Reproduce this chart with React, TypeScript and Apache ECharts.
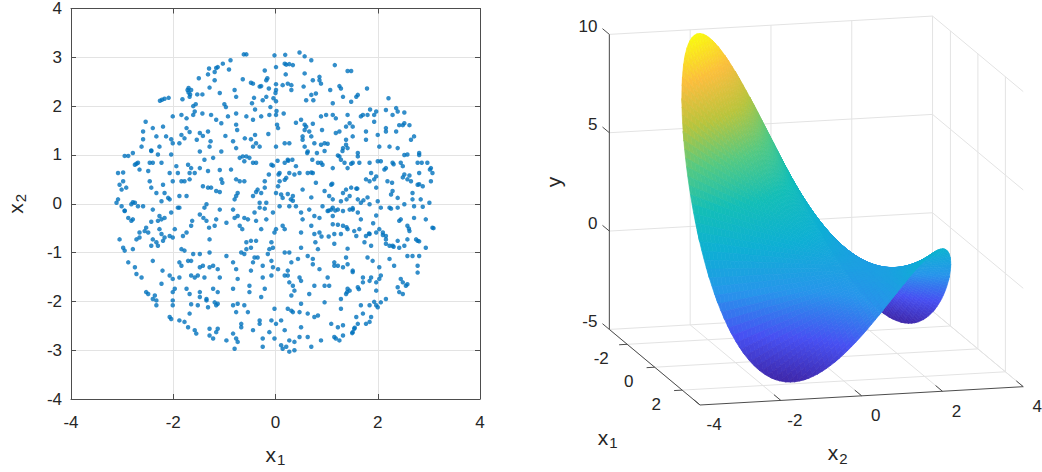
import * as echarts from "echarts";
import { useEffect, useRef } from "react";

const samplePoints: [number, number][] = [
  // x2 above 2
  [-0.62, 3.06], [-0.57, 3.06], [-0.02, 3.04], [0.19, 3.05], [0.47, 3.1], [0.57, 3.02], [0.7, 2.94], [1.16, 2.84],
  [-0.88, 2.94], [-1.03, 2.87], [-0.91, 2.75], [-1.13, 2.8], [-1.3, 2.77], [-1.16, 2.78], [-1.19, 2.7], [-1.32, 2.65],
  [-1.19, 2.53], [-1.29, 2.38], [-1.5, 2.57], [-1.7, 2.37], [-1.65, 2.33], [-1.72, 2.33], [-1.7, 2.28], [-1.67, 2.24],
  [-1.68, 2.19], [-1.53, 2.24], [-1.43, 2.24], [-1.82, 2.14], [-2.26, 2.11], [-2.22, 2.13], [-2.17, 2.15], [-2.09, 2.17],
  [-1.56, 2.04], [-1.09, 2.27], [-0.8, 2.33], [-0.77, 2.19], [-0.64, 2.55], [-0.48, 2.48], [-0.21, 2.73], [-0.16, 2.57],
  [-0.28, 2.41], [0.01, 2.45], [-0.44, 2.46], [-0.31, 2.4], [-0.18, 2.53], [0.01, 2.8], [0.18, 2.87], [0.21, 2.85],
  [0.27, 2.86], [0.34, 2.84], [0.2, 2.65], [0.14, 2.43], [0.24, 2.46], [0.31, 2.43], [0.31, 2.33], [0.01, 2.33],
  [-0.04, 2.16], [-0.18, 2.19], [-0.25, 2.12], [-0.42, 2.17], [-0.13, 2.36], [0.0, 2.27], [0.01, 2.1], [-0.46, 2.06],
  [-1.0, 2.04], [0.57, 2.67], [0.73, 2.53], [0.86, 2.6], [0.86, 2.53], [0.89, 2.46], [0.55, 2.4], [0.6, 2.12],
  [0.74, 2.12], [0.79, 2.26], [0.7, 2.23], [1.07, 2.33], [1.25, 2.41], [1.28, 2.36], [1.41, 2.72], [1.48, 2.72],
  [1.79, 2.36], [1.58, 2.19], [1.61, 2.23], [1.32, 2.19], [1.48, 2.09], [1.12, 2.06], [2.21, 2.16], [2.36, 1.96],
  [2.16, 1.92], [1.85, 1.93], [1.97, 1.89], [2.39, 1.89], [2.52, 1.87],
  // x2 between 1 and 2
  [-2.54, 1.68], [-2.59, 1.48], [-2.4, 1.55], [-2.2, 1.58], [-2.33, 1.38], [-2.14, 1.38], [-2.04, 1.32], [-2.01, 1.24],
  [-2.27, 1.17], [-2.43, 1.09], [-2.62, 1.17], [-2.59, 1.32], [-2.79, 1.04], [-2.95, 0.98], [-2.88, 0.98], [-1.84, 1.41],
  [-1.88, 1.24], [-1.78, 1.34], [-1.74, 1.55], [-1.84, 1.82], [-2.01, 1.79], [-1.61, 1.82], [-1.61, 2.0], [-1.43, 1.85],
  [-1.74, 1.75], [-1.48, 1.45], [-1.42, 1.39], [-1.32, 1.48], [-1.54, 1.31], [-1.48, 1.07], [-1.29, 1.17], [-1.26, 1.82],
  [-1.16, 1.72], [-1.06, 1.65], [-0.93, 1.79], [-0.77, 1.85], [-0.77, 1.62], [-0.75, 1.51], [-0.98, 1.39], [-0.83, 1.28],
  [-0.77, 1.14], [-1.06, 1.07], [-0.57, 1.79], [-0.44, 1.72], [-0.28, 1.79], [-0.12, 1.82], [0.01, 1.82], [0.16, 1.85],
  [0.03, 1.62], [0.05, 1.55], [-0.48, 1.32], [-0.38, 1.24], [-0.44, 1.17], [-0.31, 1.17], [0.01, 1.17], [0.18, 1.24],
  [0.27, 1.24], [0.4, 1.66], [0.5, 1.72], [0.57, 1.62], [0.57, 1.51], [0.6, 1.58], [0.73, 1.64], [0.89, 1.79],
  [0.99, 1.82], [1.12, 1.82], [0.91, 1.51], [1.18, 1.75], [0.53, 1.38], [0.66, 1.48], [0.7, 1.38], [0.53, 1.31],
  [0.57, 1.17], [0.76, 1.24], [0.63, 1.07], [0.89, 1.21], [0.96, 1.24], [1.02, 1.23], [1.18, 1.45], [1.25, 1.48],
  [1.41, 1.82], [1.45, 1.65], [1.38, 1.58], [1.51, 1.58], [1.67, 1.79], [1.71, 1.82], [1.8, 1.82], [1.93, 1.82],
  [1.51, 1.38], [1.38, 1.31], [1.38, 1.21], [1.32, 1.14], [1.41, 1.14], [1.25, 0.97], [1.61, 1.04], [1.77, 1.31],
  [1.77, 1.48], [1.93, 1.68], [2.0, 1.41], [2.03, 1.17], [2.16, 1.55], [2.16, 1.48], [2.29, 1.82], [2.23, 1.17],
  [2.36, 1.48], [2.42, 1.61], [2.49, 1.61], [2.52, 1.65], [2.62, 1.61], [2.65, 1.31], [2.71, 1.38], [2.39, 1.14],
  [2.52, 1.0], [2.81, 1.0], [-0.4, 1.93], [-0.1, 1.98], [0.02, 1.9], [-0.97, 1.98], [-1.58, 1.89], [-1.68, 1.47],
  [-1.27, 1.28], [-0.6, 1.34], [-0.14, 1.43], [-0.4, 1.41], [0.62, 1.04], [0.81, 1.04], [0.96, 1.08], [1.22, 0.99],
  [1.31, 1.08], [2.58, 1.01], [2.81, 1.04], [-2.43, 1.08], [-2.3, 1.01], [-2.04, 1.01],
  // x2 between 0 and 1
  [-3.08, 0.63], [-3.05, 0.39], [-3.01, 0.29], [-2.98, 0.46], [-2.92, 0.33], [-2.75, 0.8], [-2.69, 0.84], [-2.66, 0.7],
  [-2.46, 0.84], [-2.4, 0.84], [-2.23, 0.84], [-2.49, 0.67], [-2.46, 0.46], [-2.43, 0.33], [-2.33, 0.22], [-2.2, 0.39],
  [-2.17, 0.22], [-2.1, 0.12], [-2.07, 0.09], [-2.23, 0.05], [-2.07, 0.63], [-1.94, 0.77], [-1.91, 0.63], [-2.01, 0.46],
  [-1.84, 0.46], [-1.78, 0.46], [-1.71, 0.8], [-1.65, 0.73], [-1.68, 0.63], [-1.68, 0.5], [-1.58, 0.63], [-1.48, 0.73],
  [-1.39, 0.9], [-1.32, 0.67], [-1.22, 0.94], [-1.09, 0.69], [-1.06, 0.5], [-1.04, 0.43], [-1.42, 0.36], [-1.32, 0.33],
  [-1.26, 0.33], [-1.16, 0.26], [-1.09, 0.24], [-1.74, 0.16], [-1.88, 0.16], [-0.87, 0.7], [-0.77, 0.5], [-0.7, 0.46],
  [-0.61, 0.46], [-0.74, 0.22], [-0.77, 0.16], [-0.8, 0.09], [-0.44, 0.16], [-0.38, 0.24], [-0.35, 0.29], [-0.28, 0.22],
  [-0.21, 0.46], [-0.21, 0.33], [-0.18, 0.02], [-0.31, 0.02], [-0.7, 0.94], [-0.64, 0.97], [-0.57, 0.97], [-0.61, 0.87],
  [-0.51, 0.94], [-0.44, 0.84], [-0.38, 0.84], [-0.08, 0.8], [-0.05, 0.78], [-0.13, 0.6], [0.08, 0.63], [0.08, 0.46],
  [0.05, 0.36], [0.18, 0.84], [0.24, 0.9], [0.33, 0.9], [0.4, 0.77], [0.21, 0.53], [0.27, 0.63], [0.37, 0.6],
  [0.47, 0.63], [0.63, 0.63], [0.73, 0.63], [0.53, 0.29], [0.01, 0.22], [0.11, 0.19], [0.24, 0.2], [0.14, 0.12],
  [0.34, 0.16], [0.3, 0.09], [0.79, 0.43], [0.72, 0.9], [0.83, 0.84], [0.89, 0.84], [0.92, 0.8], [1.12, 0.73],
  [1.09, 0.39], [1.05, 0.16], [1.12, 0.09], [1.28, 0.9], [1.35, 0.84], [1.41, 0.73], [1.51, 0.84], [1.61, 0.97],
  [1.64, 0.84], [1.32, 0.22], [1.38, 0.29], [1.48, 0.33], [1.58, 0.31], [1.45, 0.16], [1.84, 0.84], [1.87, 0.63],
  [1.77, 0.5], [1.84, 0.46], [1.93, 0.5], [1.97, 0.56], [1.97, 0.33], [2.0, 0.87], [2.06, 0.87], [2.13, 0.7],
  [2.16, 0.73], [2.19, 0.46], [2.29, 0.84], [2.29, 0.26], [2.26, 0.19], [2.39, 0.12], [2.49, 0.77], [2.52, 0.6],
  [2.58, 0.5], [2.65, 0.46], [2.68, 0.22], [2.78, 0.84], [2.81, 0.63], [2.78, 0.39], [2.88, 0.36], [2.97, 0.84],
  [3.04, 0.73], [3.07, 0.63], [3.04, 0.46], [2.68, 0.09], [2.84, 0.09], [0.04, 0.88], [0.25, 0.88], [0.06, 0.6],
  [0.18, 0.49], [0.7, 0.64], [1.48, 0.82], [2.31, 0.81], [2.45, 0.84], [2.86, 0.84], [3.02, 0.7], [2.81, 0.4],
  [2.62, 0.58], [2.49, 0.54], [2.28, 0.43], [1.6, 0.31], [1.39, 0.09], [1.72, 0.07], [1.8, 0.13], [1.11, 0.41],
  [0.96, 0.26], [0.7, 0.13], [-2.72, 0.82], [-2.98, 0.64], [-2.79, 0.03],
  // x2 between -1 and 0
  [-3.11, 0.02], [-3.08, 0.09], [-3.01, -0.05], [-2.95, -0.15], [-2.88, -0.29], [-2.82, -0.01], [-2.75, 0.02], [-2.69, -0.05],
  [-2.59, -0.05], [-2.82, -0.35], [-2.79, -0.32], [-2.53, -0.49], [-2.56, -0.56], [-2.66, -0.59], [-2.72, -0.73], [-2.66, -0.69],
  [-2.49, -0.59], [-2.4, -0.12], [-2.27, -0.25], [-2.43, -0.37], [-2.3, -0.35], [-2.23, -0.32], [-2.17, -0.29], [-2.04, -0.18],
  [-2.27, -0.52], [-2.23, -0.62], [-2.4, -0.73], [-2.43, -0.86], [-2.33, -0.79], [-2.3, -0.86], [-2.2, -0.76], [-2.17, -0.69],
  [-2.07, -0.66], [-2.01, -0.69], [-1.91, -0.08], [-1.88, -0.08], [-1.97, -0.52], [-1.81, -0.66], [-1.74, -0.59], [-1.63, -0.35],
  [-1.65, -0.45], [-1.48, -0.22], [-1.39, -0.08], [-1.35, -0.01], [-1.41, -0.29], [-1.35, -0.35], [-1.3, -0.49], [-1.19, -0.45],
  [-1.29, -0.73], [-1.09, -0.12], [-1.16, -0.32], [-0.96, -0.39], [-0.83, -0.12], [-0.8, -0.29], [-0.74, -0.25], [-0.7, -0.45],
  [-0.61, -0.29], [-0.54, -0.32], [-0.65, -0.52], [-0.57, -0.79], [-0.48, -0.76], [-0.38, -0.76], [-0.61, -1.03], [-0.41, -0.18],
  [-0.31, -0.08], [-0.21, -0.1], [-0.18, -0.32], [-0.38, -0.35], [-0.28, -0.52], [-0.05, -0.18], [0.08, -0.05], [0.01, -0.52],
  [-0.02, -0.59], [-0.08, -0.79], [0.14, -0.45], [0.18, -0.52], [0.27, -0.05], [0.34, 0.06], [0.4, -0.05], [0.5, -0.18],
  [0.66, -0.12], [0.76, -0.25], [0.86, -0.29], [0.92, -0.05], [1.02, -0.15], [1.09, -0.12], [1.12, -0.08], [1.22, -0.12],
  [1.28, 0.05], [1.32, -0.15], [1.45, -0.12], [1.51, -0.12], [1.61, 0.09], [1.67, 0.02], [1.84, -0.01], [2.0, 0.05],
  [2.06, -0.08], [2.23, -0.08], [2.39, -0.08], [2.52, -0.01], [2.71, -0.05], [2.88, -0.06], [3.01, 0.02], [1.12, -0.25],
  [0.53, -0.32], [0.7, -0.45], [0.5, -0.59], [0.76, -0.62], [0.86, -0.59], [1.12, -0.42], [1.15, -0.62], [1.28, -0.62],
  [1.32, -0.45], [1.41, -0.52], [1.54, -0.56], [1.64, -0.52], [1.67, -0.32], [1.61, -0.18], [1.77, -0.66], [1.84, -0.62],
  [1.74, -0.79], [1.87, -0.86], [1.97, -0.59], [2.03, -0.52], [2.1, -0.59], [2.16, -0.66], [2.16, -0.73], [2.23, -0.86],
  [2.29, -0.86], [2.39, -0.76], [2.42, -0.9], [2.45, -0.32], [2.58, -0.45], [2.62, -0.56], [2.75, -0.73], [2.78, -0.76],
  [2.94, -0.32], [3.07, -0.49], [2.94, -0.9], [2.58, -0.73], [2.52, -0.86], [1.04, -0.14], [1.17, -0.14], [1.51, -0.09],
  [1.97, -0.24], [2.26, -0.1], [2.71, -0.29], [2.42, -0.35], [2.61, -0.51], [3.09, -0.5], [1.91, -0.4], [1.39, -0.48],
  [1.22, -0.43], [1.04, -0.67], [0.9, -0.67], [0.78, -0.79], [1.15, -0.82], [1.41, -0.92], [1.58, -0.66], [1.83, -0.61],
  [2.1, -0.64], [2.16, -0.82], [2.31, -0.88], [2.81, -0.77], [-3.05, -0.73], [-2.95, -0.14],
  // x2 between -2 and -1
  [-2.98, -0.9], [-2.95, -0.96], [-2.79, -0.93], [-2.88, -1.2], [-2.75, -1.3], [-2.72, -1.44], [-2.62, -1.51], [-2.4, -1.17],
  [-2.21, -1.37], [-2.23, -1.64], [-2.53, -1.81], [-2.49, -1.85], [-2.36, -1.88], [-2.07, -1.47], [-2.01, -1.54], [-1.88, -1.51],
  [-2.01, -1.81], [-1.97, -1.74], [-1.84, -0.93], [-1.78, -0.96], [-1.88, -1.2], [-1.84, -1.27], [-1.71, -1.17], [-1.65, -1.17],
  [-1.61, -1.03], [-1.65, -1.47], [-1.58, -1.51], [-1.52, -1.47], [-1.48, -1.3], [-1.42, -1.27], [-1.48, -1.03], [-1.29, -1.0],
  [-1.29, -1.3], [-1.22, -1.27], [-1.39, -1.51], [-1.09, -1.51], [-1.13, -1.34], [-0.96, -1.07], [-0.83, -1.2], [-0.77, -1.34],
  [-0.74, -1.54], [-0.83, -1.74], [-1.13, -1.81], [-1.22, -1.74], [-1.74, -1.74], [-1.68, -1.85], [-1.48, -1.81], [-1.35, -1.95],
  [-0.67, -1.0], [-0.57, -0.93], [-0.48, -0.9], [-0.41, -1.1], [-0.35, -1.1], [-0.44, -1.2], [-0.48, -1.37], [-0.51, -1.81],
  [-0.51, -1.68], [-0.25, -1.27], [-0.15, -1.03], [-0.12, -0.93], [-0.05, -0.9], [-0.08, -1.17], [-0.05, -1.3], [0.05, -1.34],
  [-0.08, -1.47], [-0.25, -1.51], [-0.21, -1.74], [0.18, -1.0], [0.27, -1.0], [0.31, -1.2], [0.24, -1.37], [0.18, -1.47],
  [0.24, -1.47], [0.27, -1.61], [0.34, -1.68], [0.37, -1.78], [0.31, -1.88], [0.47, -1.51], [0.5, -1.58], [0.44, -1.13],
  [0.5, -0.9], [0.63, -1.07], [0.73, -1.13], [0.73, -1.24], [0.83, -0.93], [0.86, -1.34], [0.76, -1.68], [0.66, -1.85],
  [0.96, -1.68], [1.05, -1.68], [1.02, -1.51], [1.15, -1.2], [1.15, -1.27], [1.22, -1.27], [1.32, -1.3], [1.41, -1.24],
  [1.38, -1.1], [1.51, -1.37], [1.41, -1.74], [1.45, -1.78], [1.38, -1.85], [1.61, -1.71], [1.71, -1.61], [1.71, -1.51],
  [1.84, -1.58], [1.87, -1.51], [1.97, -1.61], [2.03, -1.54], [2.06, -1.47], [1.8, -1.1], [1.9, -1.17], [2.03, -1.3],
  [1.97, -1.78], [2.23, -1.13], [2.32, -1.27], [2.45, -1.54], [2.49, -1.61], [2.55, -1.68], [2.58, -1.65], [2.42, -1.81],
  [2.49, -1.85], [2.39, -1.71], [2.78, -1.27], [2.78, -1.41], [2.58, -1.07], [2.68, -1.07], [2.81, -1.07], [1.28, -1.95],
  [1.63, -1.75], [1.4, -1.81], [1.51, -1.4], [1.93, -2.01],
  // x2 below -2
  [-2.33, -1.98], [-2.33, -2.08], [-2.4, -1.95], [-2.07, -2.32], [-2.04, -2.36], [-2.01, -2.08], [-2.01, -1.98], [-1.88, -2.39],
  [-1.78, -2.42], [-1.71, -2.53], [-1.58, -2.59], [-1.55, -2.66], [-1.68, -2.25], [-1.65, -2.06], [-1.52, -2.08], [-1.48, -1.91],
  [-1.35, -1.98], [-1.32, -2.12], [-1.19, -2.02], [-1.16, -2.08], [-1.13, -2.05], [-1.29, -2.56], [-1.29, -2.7], [-1.22, -2.76],
  [-1.16, -2.63], [-1.13, -2.56], [-0.96, -2.8], [-0.83, -2.66], [-0.8, -2.97], [-0.77, -2.76], [-0.74, -2.83], [-0.83, -2.08],
  [-0.74, -2.05], [-0.77, -2.22], [-0.61, -2.08], [-0.54, -2.22], [-0.67, -2.46], [-0.67, -2.53], [-0.44, -2.59], [-0.31, -2.39],
  [-0.31, -2.46], [-0.25, -2.76], [-0.25, -2.93], [-0.28, -1.91], [-0.02, -2.15], [-0.08, -2.39], [0.01, -2.46], [0.11, -2.39],
  [0.18, -2.59], [-0.12, -2.63], [-0.02, -2.76], [0.11, -2.9], [0.14, -2.97], [0.21, -2.93], [0.27, -3.03], [0.37, -3.0],
  [0.37, -2.83], [0.27, -2.8], [0.24, -2.15], [0.34, -2.22], [0.31, -2.19], [0.5, -2.05], [0.47, -2.22], [0.5, -2.53],
  [0.47, -2.73], [0.63, -2.73], [0.7, -2.93], [0.63, -2.25], [0.76, -2.32], [0.83, -2.29], [0.89, -2.8], [0.96, -2.02],
  [1.09, -2.46], [1.15, -2.73], [1.18, -2.76], [1.25, -2.8], [1.32, -2.7], [1.28, -2.15], [1.32, -2.49], [1.22, -2.53],
  [1.51, -2.63], [1.54, -2.56], [1.61, -2.46], [1.58, -2.32], [1.67, -2.08], [1.71, -2.25], [1.77, -2.46], [1.84, -2.42],
  [1.84, -2.08], [1.97, -2.08], [2.0, -2.12], [2.06, -2.02], [2.16, -1.95], [1.87, -2.32], [1.55, -2.54], [1.5, -2.65],
];

// ---------- right panel: surface heights on a 0.5 grid (rows x1, columns x2) ----------
const gridX1 = [-3.5, -3, -2.5, -2, -1.5, -1, -0.5, 0, 0.5, 1, 1.5, 2, 2.5, 3, 3.5];
const gridX2 = [-3.5, -3, -2.5, -2, -1.5, -1, -0.5, 0, 0.5, 1, 1.5, 2, 2.5, 3, 3.5];
const surfaceY = [
  [20.25, 18, 15.75, 13.5, 11.25, 9, 6.75, 4.5, 2.25, 0, -2.25, -4.5, -6.75, -9, -11.25],
  [18, 16, 14, 12, 10, 8, 6, 4, 2, 0, -2, -4, -6, -8, -10],
  [15.75, 14, 12.25, 10.5, 8.75, 7, 5.25, 3.5, 1.75, 0, -1.75, -3.5, -5.25, -7, -8.75],
  [13.5, 12, 10.5, 9, 7.5, 6, 4.5, 3, 1.5, 0, -1.5, -3, -4.5, -6, -7.5],
  [11.25, 10, 8.75, 7.5, 6.25, 5, 3.75, 2.5, 1.25, 0, -1.25, -2.5, -3.75, -5, -6.25],
  [9, 8, 7, 6, 5, 4, 3, 2, 1, 0, -1, -2, -3, -4, -5],
  [6.75, 6, 5.25, 4.5, 3.75, 3, 2.25, 1.5, 0.75, 0, -0.75, -1.5, -2.25, -3, -3.75],
  [4.5, 4, 3.5, 3, 2.5, 2, 1.5, 1, 0.5, 0, -0.5, -1, -1.5, -2, -2.5],
  [2.25, 2, 1.75, 1.5, 1.25, 1, 0.75, 0.5, 0.25, 0, -0.25, -0.5, -0.75, -1, -1.25],
  [0, 0, 0, 0, 0, 0, 0, 0, 0, 0, 0, 0, 0, 0, 0],
  [-2.25, -2, -1.75, -1.5, -1.25, -1, -0.75, -0.5, -0.25, 0, 0.25, 0.5, 0.75, 1, 1.25],
  [-4.5, -4, -3.5, -3, -2.5, -2, -1.5, -1, -0.5, 0, 0.5, 1, 1.5, 2, 2.5],
  [-6.75, -6, -5.25, -4.5, -3.75, -3, -2.25, -1.5, -0.75, 0, 0.75, 1.5, 2.25, 3, 3.75],
  [-9, -8, -7, -6, -5, -4, -3, -2, -1, 0, 1, 2, 3, 4, 5],
  [-11.25, -10, -8.75, -7.5, -6.25, -5, -3.75, -2.5, -1.25, 0, 1.25, 2.5, 3.75, 5, 6.25],
];
const diskRadius = 3.15;

const box3dX1: [number, number] = [-3.3, 3.3];
const box3dX2: [number, number] = [-4, 4];
const box3dY: [number, number] = [-5, 10];
const ticks3dX1 = [-2, 0, 2];
const ticks3dX2 = [-4, -2, 0, 2, 4];
const ticks3dY = [-5, 0, 5, 10];

// parula colour stops
const parulaStops: [number, [number, number, number]][] = [
  [0, [62, 38, 168]],
  [0.125, [71, 80, 242]],
  [0.25, [39, 149, 235]],
  [0.375, [14, 175, 212]],
  [0.5, [19, 190, 183]],
  [0.625, [84, 201, 130]],
  [0.75, [185, 196, 60]],
  [0.875, [251, 189, 61]],
  [1, [249, 251, 14]],
];

const FONT = "'Liberation Sans', Arial, Helvetica, sans-serif";
const INK = "#262626";
const AXIS = "#4d4d4d";
const GRIDLINE = "#e3e3e3";
const DOT = "#0072BD";

// view of the 3-D box onto the page (orthographic)
const view = { ox: 816.3, oy: 259.7, x1: [13.74, 11.45], x2: [40.4, -2.29], y: -19.67 };
function project(a: number, b: number, c: number): [number, number] {
  return [view.ox + view.x1[0] * a + view.x2[0] * b, view.oy + view.x1[1] * a + view.x2[1] * b + view.y * c];
}
const depthOf = (a: number, b: number) => view.x2[0] * a - view.x1[0] * b;

function parula(t: number) {
  const s = Math.max(0, Math.min(1, t));
  for (let k = 1; k < parulaStops.length; k++) {
    const [t1, c1] = parulaStops[k];
    const [t0, c0] = parulaStops[k - 1];
    if (s <= t1) {
      const f = (s - t0) / (t1 - t0);
      const c = c0.map((v, n) => Math.round(v + (c1[n] - v) * f));
      return `rgb(${c[0]},${c[1]},${c[2]})`;
    }
  }
  return "rgb(249,251,14)";
}

type Facet = { pts: [number, number, number][]; h: number; depth: number; color?: string; rank?: number };

function buildSurface() {
  const SUB = 5;
  const R2 = diskRadius * diskRadius;
  const cells: Facet[][] = [];
  const all: Facet[] = [];
  for (let i = 0; i < gridX1.length - 1; i++) {
    for (let j = 0; j < gridX2.length - 1; j++) {
      const a0 = gridX1[i], a1 = gridX1[i + 1], b0 = gridX2[j], b1 = gridX2[j + 1];
      const z00 = surfaceY[i][j], z10 = surfaceY[i + 1][j], z01 = surfaceY[i][j + 1], z11 = surfaceY[i + 1][j + 1];
      const patch = (a: number, b: number): [number, number, number] => {
        const u = (a - a0) / (a1 - a0), v = (b - b0) / (b1 - b0);
        return [a, b, z00 * (1 - u) * (1 - v) + z10 * u * (1 - v) + z01 * (1 - u) * v + z11 * u * v];
      };
      const facets: Facet[] = [];
      for (let p = 0; p < SUB; p++) {
        for (let q = 0; q < SUB; q++) {
          const ua = a0 + (a1 - a0) * p / SUB, ub = a0 + (a1 - a0) * (p + 1) / SUB;
          const va = b0 + (b1 - b0) * q / SUB, vb = b0 + (b1 - b0) * (q + 1) / SUB;
          const raw: [number, number][] = [[ua, va], [ub, va], [ub, vb], [ua, vb]];
          const inside = raw.map(([a, b]) => a * a + b * b <= R2);
          if (!inside.some(Boolean)) continue;
          // corners beyond the disc edge are pulled onto its rim
          const pts = raw.map(([a, b], k) => {
            if (inside[k]) return patch(a, b);
            const s = diskRadius / Math.hypot(a, b);
            return patch(a * s, b * s);
          });
          const h = (pts[0][2] + pts[1][2] + pts[2][2] + pts[3][2]) / 4;
          const ca = (pts[0][0] + pts[1][0] + pts[2][0] + pts[3][0]) / 4;
          const cb = (pts[0][1] + pts[1][1] + pts[2][1] + pts[3][1]) / 4;
          const f: Facet = { pts, h, depth: depthOf(ca, cb) };
          facets.push(f);
          all.push(f);
        }
      }
      if (facets.length) cells.push(facets);
    }
  }
  let lo = Infinity, hi = -Infinity;
  for (const f of all) for (const p of f.pts) { lo = Math.min(lo, p[2]); hi = Math.max(hi, p[2]); }
  all.sort((m, n) => m.depth - n.depth);
  all.forEach((f, k) => { f.rank = k; f.color = parula((f.h - lo) / (hi - lo)); });
  return cells;
}

export default function App() {
  const chartRef = useRef<HTMLDivElement | null>(null);

  useEffect(() => {
    if (!chartRef.current) return;
    document.body.style.margin = "0";
    const chart = echarts.init(chartRef.current, undefined, { renderer: "svg" });
    const surfaceCells = buildSurface();

    const richOpt = {
      a: { fontSize: 21, fontFamily: FONT, color: INK },
      b: { fontSize: 15, fontFamily: FONT, color: INK, padding: [11, 0, 0, 1] },
    };
    const richZr = {
      a: { fontSize: 21, fontFamily: FONT, fill: INK },
      b: { fontSize: 15, fontFamily: FONT, fill: INK, padding: [11, 0, 0, 1] },
    };
    const tickLabel = { color: INK, fontSize: 17, fontFamily: FONT };

    const renderBox = (_params: any, api: any) => {
      const P = (a: number, b: number, c: number) => api.coord(project(a, b, c));
      const children: any[] = [];
      const seg = (p: number[], q: number[], stroke: string) =>
        children.push({ type: "line", shape: { x1: p[0], y1: p[1], x2: q[0], y2: q[1] }, style: { stroke, lineWidth: 1 } });
      const [a0, a1] = box3dX1, [b0, b1] = box3dX2, [c0, c1] = box3dY;
      // back wall
      for (const c of ticks3dY) seg(P(a0, b0, c), P(a0, b1, c), GRIDLINE);
      for (const b of ticks3dX2) seg(P(a0, b, c0), P(a0, b, c1), GRIDLINE);
      // side wall
      for (const c of ticks3dY) seg(P(a0, b1, c), P(a1, b1, c), GRIDLINE);
      for (const a of ticks3dX1) seg(P(a, b1, c0), P(a, b1, c1), GRIDLINE);
      // floor
      for (const a of ticks3dX1) seg(P(a, b0, c0), P(a, b1, c0), GRIDLINE);
      for (const b of ticks3dX2) seg(P(a0, b, c0), P(a1, b, c0), GRIDLINE);
      // axes
      seg(P(a0, b0, c0), P(a0, b0, c1), AXIS);
      seg(P(a0, b0, c0), P(a1, b0, c0), AXIS);
      seg(P(a1, b0, c0), P(a1, b1, c0), AXIS);
      const text = (x: number, y: number, s: string, align: string) =>
        children.push({
          type: "text", x, y,
          style: { text: s, fill: INK, fontSize: 17, fontFamily: FONT, align, verticalAlign: "middle" },
        });
      for (const c of ticks3dY) {
        const p = P(a0, b0, c);
        seg(p, P(a0 - 0.5, b0, c), AXIS);
        text(p[0] - 12, p[1] - 8, String(c), "right");
      }
      for (const a of ticks3dX1) {
        const p = P(a, b0, c0);
        seg(p, P(a, b0 - 0.2, c0), AXIS);
        text(p[0] - 26, p[1] + 14, String(a), "center");
      }
      for (const b of ticks3dX2) {
        const p = P(a1, b, c0);
        seg(p, P(a1 - 0.5, b, c0), AXIS);
        text(p[0] + 14, p[1] + 20, String(b), "center");
      }
      const yl = P(a0, b0, 2.5);
      children.push({
        type: "text", x: yl[0] - 56, y: yl[1], rotation: Math.PI / 2,
        style: { text: "y", fill: INK, fontSize: 21, fontFamily: FONT, align: "center", verticalAlign: "middle" },
      });
      const x1l = P(0, b0, c0);
      children.push({
        type: "text", x: x1l[0] - 47, y: x1l[1] + 70,
        style: { text: "{a|x}{b|1}", rich: richZr, align: "center", verticalAlign: "middle" },
      });
      const x2l = P(a1, 0, c0);
      children.push({
        type: "text", x: x2l[0] - 24, y: x2l[1] + 57,
        style: { text: "{a|x}{b|2}", rich: richZr, align: "center", verticalAlign: "middle" },
      });
      return { type: "group", children };
    };

    const renderSurface = (params: any, api: any) => {
      const facets = surfaceCells[params.dataIndex];
      return {
        type: "group",
        children: facets.map((f) => ({
          type: "polygon",
          z2: f.rank,
          silent: true,
          shape: { points: f.pts.map(([a, b, c]) => api.coord(project(a, b, c))) },
          style: { fill: f.color, stroke: f.color, lineWidth: 0.7 },
        })),
      };
    };

    const boxAxis = {
      axisLine: { show: true, onZero: false, lineStyle: { color: AXIS, width: 1 } },
      axisTick: { show: true, inside: true, length: 5, lineStyle: { color: AXIS } },
    };

    chart.setOption({
      animation: false,
      grid: [
        { left: 71, top: 7, width: 409, height: 393 },
        { left: 0, top: 0, right: 0, bottom: 0 },
      ],
      xAxis: [
        {
          gridIndex: 0, type: "value", min: -4, max: 4, interval: 2, position: "bottom",
          ...boxAxis,
          axisLabel: { ...tickLabel, margin: 15 },
          splitLine: { show: true, lineStyle: { color: GRIDLINE } },
          name: "{a|x}{b|1}", nameLocation: "middle", nameGap: 42,
          nameTextStyle: { rich: richOpt },
        },
        {
          gridIndex: 0, type: "value", min: -4, max: 4, interval: 2, position: "top",
          ...boxAxis, axisLabel: { show: false }, splitLine: { show: false },
        },
        { gridIndex: 1, type: "value", min: 0, max: 1042, show: false },
      ],
      yAxis: [
        {
          gridIndex: 0, type: "value", min: -4, max: 4, interval: 1, position: "left",
          ...boxAxis,
          axisLabel: { ...tickLabel, margin: 9 },
          splitLine: { show: true, lineStyle: { color: GRIDLINE } },
          name: "{a|x}{b|2}", nameLocation: "middle", nameGap: 43,
          nameTextStyle: { rich: richOpt },
        },
        {
          gridIndex: 0, type: "value", min: -4, max: 4, interval: 1, position: "right",
          ...boxAxis, axisLabel: { show: false }, splitLine: { show: false },
        },
        { gridIndex: 1, type: "value", min: 0, max: 472, inverse: true, show: false },
      ],
      series: [
        {
          type: "scatter", xAxisIndex: 0, yAxisIndex: 0, data: samplePoints,
          symbol: "circle", symbolSize: 4.5, itemStyle: { color: DOT }, silent: true,
        },
        {
          type: "custom", xAxisIndex: 2, yAxisIndex: 2, z: 1, silent: true,
          data: [[0, 0]], renderItem: renderBox,
        },
        {
          type: "custom", xAxisIndex: 2, yAxisIndex: 2, z: 3, silent: true,
          data: surfaceCells.map(() => [0, 0]), renderItem: renderSurface,
        },
      ],
    });

    const handleResize = () => chart.resize();
    window.addEventListener("resize", handleResize);
    return () => {
      window.removeEventListener("resize", handleResize);
      chart.dispose();
    };
  }, []);

  return <div ref={chartRef} style={{ width: 1042, height: 472 }} />;
}
